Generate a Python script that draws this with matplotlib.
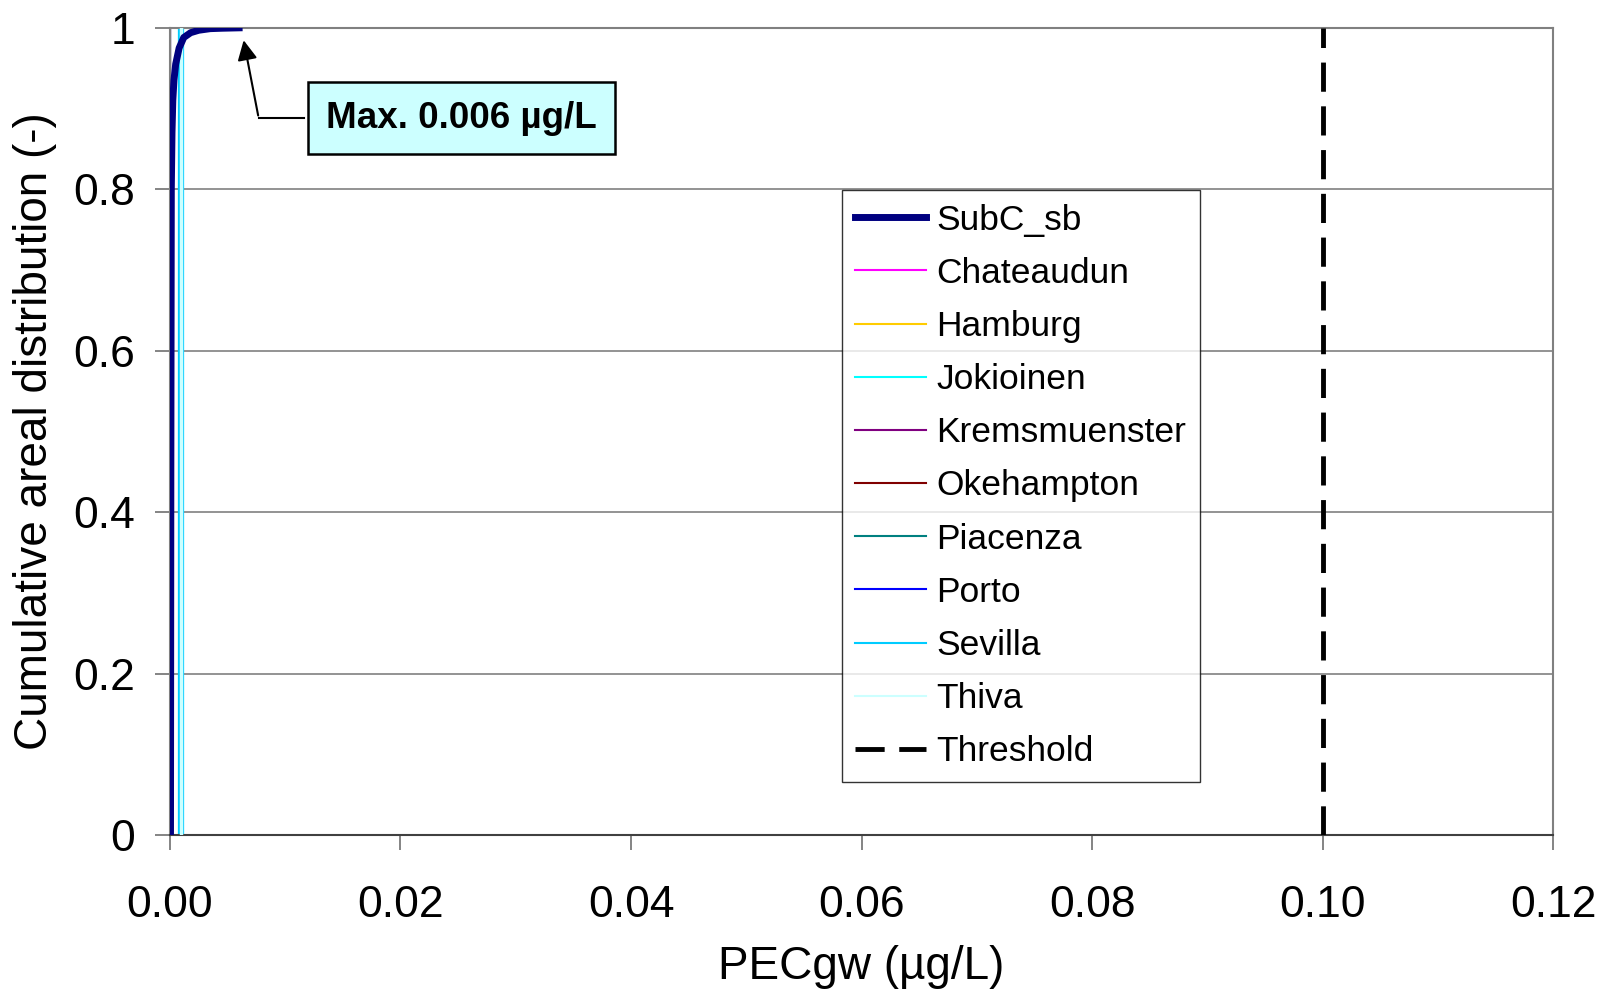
import matplotlib
matplotlib.use("Agg")
import matplotlib.pyplot as plt
from matplotlib.lines import Line2D

plt.rcParams['font.family'] = ['Liberation Sans', 'DejaVu Sans']

# Data
subc_x = [0.00005, 0.00008, 0.00012, 0.00018, 0.00025, 0.00035, 0.0005, 0.0008, 0.0012, 0.0018, 0.0025, 0.0035, 0.0045, 0.006]
subc_y = [0.0, 0.45, 0.80, 0.87, 0.91, 0.935, 0.955, 0.975, 0.988, 0.994, 0.997, 0.999, 0.9995, 1.0]

stations = ['Chateaudun', 'Hamburg', 'Jokioinen', 'Kremsmuenster', 'Okehampton',
            'Piacenza', 'Porto', 'Sevilla', 'Thiva']
station_colors = ['#FF00FF', '#FFCC00', '#00FFFF', '#800080', '#800000',
                  '#008080', '#0000FF', '#00CCFF', '#CCFFFF']
station_x = [0.0, 0.0, 0.0, 0.0, 0.0, 0.0, 0.0, 0.00095, 0.00095]
station_y = [0.0, 1.0]

threshold_x = 0.1
threshold_y = [0.0, 1.0]

max_value = 0.006
xticks = [0.0, 0.02, 0.04, 0.06, 0.08, 0.10, 0.12]
yticks = [0, 0.2, 0.4, 0.6, 0.8, 1]

fig = plt.figure(figsize=(16.03, 9.94), dpi=100)
ax = fig.add_axes([0.106, 0.160, 0.863, 0.812])

handles = []
for name, c, sx in zip(stations, station_colors, station_x):
    lw = 1.5
    if name == 'Sevilla':
        lw = 4.5
    elif name == 'Thiva':
        lw = 2.5
    ax.plot([sx, sx], station_y, color=c, lw=lw, zorder=3 if name == 'Thiva' else 2)
    handles.append(Line2D([], [], color=c, lw=1.5, label=name))

h_sub, = ax.plot(subc_x, subc_y, color='#000080', lw=5, label='SubC_sb', zorder=4)
h_thr, = ax.plot([threshold_x, threshold_x], threshold_y, color='black', lw=3.5,
                 dashes=(6, 3), label='Threshold', zorder=4)

ax.set_xlim(0, 0.12)
ax.set_ylim(0, 1)
ax.set_xticks(xticks)
ax.set_xticklabels([f"{v:.2f}" for v in xticks])
ax.set_yticks(yticks)
ax.set_yticklabels(['0', '0.2', '0.4', '0.6', '0.8', '1'])
ax.tick_params(axis='both', labelsize=32, direction='out', length=11, width=1.2, color='#707070')
ax.tick_params(axis='x', pad=25)
ax.tick_params(axis='y', pad=14)
ax.yaxis.grid(True, color='#808080', lw=1.2)
ax.set_axisbelow(True)
for s in ['top', 'right', 'left']:
    ax.spines[s].set_color('#808080')
    ax.spines[s].set_linewidth(1.5)
ax.spines['bottom'].set_color('#404040')
ax.spines['bottom'].set_linewidth(1.5)

ax.set_xlabel('PECgw (\u00b5g/L)', fontsize=33, labelpad=14)
ax.set_ylabel('Cumulative areal distribution (-)', fontsize=33, labelpad=12)

# annotation
ax.plot([0.0116, 0.0077], [0.888, 0.888], color='black', lw=1.5, zorder=5)
ax.annotate('', xy=(0.00635, 0.988), xytext=(0.0077, 0.888),
            arrowprops=dict(arrowstyle='-|>', color='black', lw=1.5, mutation_scale=30),
            zorder=5)
ax.text(0.0253, 0.888, f'Max. {max_value} \u00b5g/L', fontsize=26.5, fontweight='bold',
        ha='center', va='center', zorder=6,
        bbox=dict(boxstyle='square,pad=0.5', fc='#CCFFFF', ec='black', lw=1.8))

leg = ax.legend(handles=[h_sub] + handles + [h_thr], loc='upper left',
                bbox_to_anchor=(0.4855, 0.799), fontsize=25.5, frameon=True,
                fancybox=False, edgecolor='black', handlelength=2.0,
                labelspacing=0.57, borderpad=0.38, handletextpad=0.3, borderaxespad=0)
leg.get_frame().set_linewidth(1.0)
leg.set_zorder(7)

fig.savefig('out.png', dpi=100, facecolor='white')
